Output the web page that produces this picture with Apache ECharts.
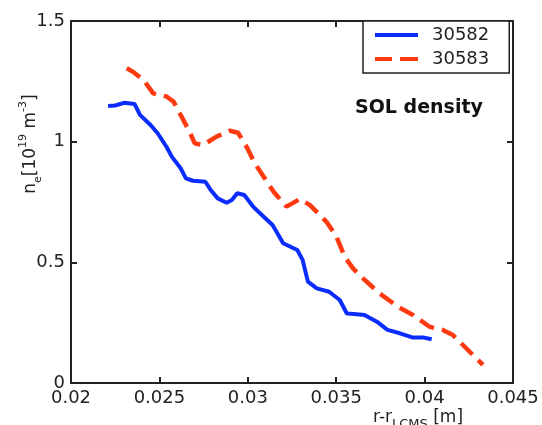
<!DOCTYPE html>
<html>
<head>
<meta charset="utf-8">
<script src="https://cdn.jsdelivr.net/npm/echarts@6/dist/echarts.min.js"></script>
<style>
  html, body { margin: 0; padding: 0; background: #fff; }
  #main { width: 542px; height: 425px; }
</style>
</head>
<body>
<div id="main"></div>
<script>
// shot 30582 (solid blue)
var x30582 = [0.0221, 0.0225, 0.0230, 0.0236, 0.0239, 0.0245, 0.0249, 0.0254, 0.0257, 0.0262,
              0.0265, 0.0269, 0.0276, 0.0279, 0.0283, 0.0288, 0.0291, 0.0294, 0.0298, 0.0303,
              0.0309, 0.0314, 0.0320, 0.0328, 0.0331, 0.0334, 0.0339, 0.0346, 0.0352, 0.0356,
              0.0360, 0.0366, 0.0373, 0.0379, 0.0386, 0.0393, 0.0399, 0.0404];
var y30582 = [1.148, 1.150, 1.161, 1.156, 1.111, 1.069, 1.035, 0.979, 0.938, 0.890,
              0.848, 0.838, 0.834, 0.800, 0.765, 0.747, 0.758, 0.786, 0.779, 0.731,
              0.689, 0.655, 0.579, 0.551, 0.510, 0.420, 0.392, 0.378, 0.344, 0.288,
              0.286, 0.282, 0.254, 0.220, 0.206, 0.189, 0.189, 0.181];

// shot 30583 (dashed red)
var x30583 = [0.02315, 0.0235, 0.0241, 0.02465, 0.0254, 0.0258, 0.02625, 0.0267, 0.0270, 0.02747,
              0.02823, 0.02898, 0.02945, 0.02993, 0.0304, 0.03087, 0.03148, 0.03219, 0.03294, 0.0335,
              0.03445, 0.03501, 0.03548, 0.03595, 0.03661, 0.03746, 0.03849, 0.03934, 0.04028, 0.04103,
              0.0416, 0.04235, 0.0433];
var y30583 = [1.304, 1.290, 1.256, 1.200, 1.187, 1.166, 1.104, 1.042, 0.993, 0.986,
              1.021, 1.045, 1.037, 0.979, 0.910, 0.858, 0.790, 0.731, 0.762, 0.738,
              0.668, 0.607, 0.523, 0.475, 0.427, 0.371, 0.316, 0.282, 0.233, 0.220,
              0.199, 0.144, 0.075];

var xMin = 0.02, xMax = 0.045, xStep = 0.005;
var yMin = 0, yMax = 1.5, yStep = 0.5;

function pairs(xs, ys) {
    var out = [];
    for (var i = 0; i < xs.length; i++) {
        out.push([xs[i], ys[i]]);
    }
    return out;
}

var FONT = 'DejaVu Sans';
var INK = '#222';
var BLUE = '#0a2cff', RED = '#ff3a10';

var axisBase = {
    axisLine: { show: true, onZero: false, lineStyle: { color: INK, width: 2 } },
    axisTick: { show: true, inside: true, length: 6, lineStyle: { color: INK, width: 2 } },
    splitLine: { show: false }
};

var myChart = echarts.init(document.getElementById('main'));

var option = {
    backgroundColor: '#fff',
    animation: false,
    grid: { left: 71, right: 29, top: 21, bottom: 42 },
    xAxis: [
        Object.assign({
            type: 'value', min: xMin, max: xMax, interval: xStep, position: 'bottom',
            axisLabel: {
                color: INK, fontFamily: FONT, fontSize: 18, margin: 6,
                formatter: function (v) { return String(+v.toFixed(3)); }
            }
        }, axisBase),
        Object.assign({
            type: 'value', min: xMin, max: xMax, interval: xStep, position: 'top',
            axisLabel: { show: false }
        }, axisBase)
    ],
    yAxis: [
        Object.assign({
            type: 'value', min: yMin, max: yMax, interval: yStep, position: 'left',
            axisLabel: {
                color: INK, fontFamily: FONT, fontSize: 18, margin: 6,
                formatter: function (v) { return String(+v.toFixed(1)); }
            }
        }, axisBase),
        Object.assign({
            type: 'value', min: yMin, max: yMax, interval: yStep, position: 'right',
            axisLabel: { show: false }
        }, axisBase)
    ],
    legend: {
        orient: 'vertical',
        left: 363, top: 21,
        padding: [5, 20, 5, 12],
        itemGap: 6,
        itemWidth: 43,
        itemHeight: 4,
        borderColor: INK,
        borderWidth: 1.5,
        backgroundColor: '#fff',
        textStyle: { color: INK, fontFamily: FONT, fontSize: 18, padding: [0, 0, 0, 9] },
        data: [
            { name: '30582', icon: 'path://M0,0H43V4H0Z', itemStyle: { color: BLUE } },
            { name: '30583', icon: 'path://M0,0H17V4H0Z M25,0H43V4H25Z', itemStyle: { color: RED } }
        ]
    },
    series: [
        {
            name: '30582', type: 'line', showSymbol: false, symbol: 'none',
            data: pairs(x30582, y30582),
            lineStyle: { color: BLUE, width: 4 },
            itemStyle: { color: BLUE }
        },
        {
            name: '30583', type: 'line', showSymbol: false, symbol: 'none',
            data: pairs(x30583, y30583),
            lineStyle: { color: RED, width: 4.5, type: [16, 8] },
            itemStyle: { color: RED }
        }
    ],
    graphic: [
        {
            type: 'text', left: 355, top: 99,
            style: { text: 'SOL density', fill: '#111', font: 'bold 19px "DejaVu Sans"' }
        },
        {
            // y axis title, rotated
            type: 'text', x: 31, y: 144, rotation: Math.PI / 2,
            style: {
                text: '{n|n}{sub|e}{n|[10}{sup|19}{n| m}{sup|-3}{n|]}',
                align: 'center', verticalAlign: 'middle',
                rich: {
                    n: { fontFamily: FONT, fontSize: 17, fill: INK, lineHeight: 26, verticalAlign: 'middle' },
                    sup: { fontFamily: FONT, fontSize: 11, fill: INK, lineHeight: 11, verticalAlign: 'top' },
                    sub: { fontFamily: FONT, fontSize: 11, fill: INK, lineHeight: 11, verticalAlign: 'bottom' }
                }
            }
        },
        {
            // x axis title
            type: 'text', x: 373, y: 418,
            style: {
                text: '{n|r-r}{sub|LCMS}{n| [m]}',
                align: 'left', verticalAlign: 'middle',
                rich: {
                    n: { fontFamily: FONT, fontSize: 17, fill: INK, lineHeight: 26, verticalAlign: 'middle' },
                    sub: { fontFamily: FONT, fontSize: 13, fill: INK, lineHeight: 13, verticalAlign: 'bottom' }
                }
            }
        }
    ]
};

myChart.setOption(option);
</script>
</body>
</html>
